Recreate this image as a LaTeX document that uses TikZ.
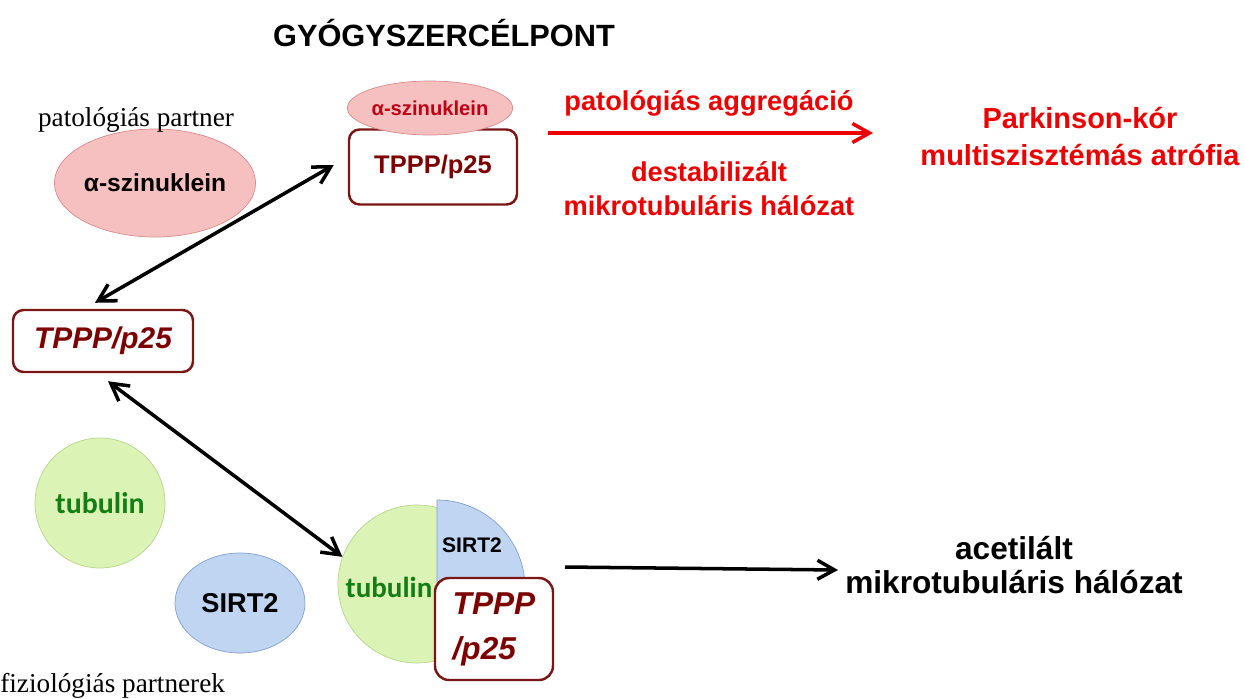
\documentclass[tikz,border=0pt]{standalone}
\usepackage{fontspec}
\setmainfont{Liberation Serif}
\setsansfont{Liberation Sans}
\newfontfamily\tubfont{Carlito}
\usetikzlibrary{arrows.meta,positioning,shapes.geometric}
\definecolor{boxred}{RGB}{122,22,22}
\definecolor{textred}{RGB}{125,0,0}
\definecolor{signalred}{RGB}{236,0,0}
\definecolor{asynred}{RGB}{190,0,20}
\definecolor{pinkfill}{RGB}{247,192,192}
\definecolor{pinkline}{RGB}{214,140,140}
\definecolor{greenfill}{RGB}{220,243,182}
\definecolor{greenline}{RGB}{182,212,140}
\definecolor{bluefill}{RGB}{192,213,242}
\definecolor{blueline}{RGB}{130,160,205}
\definecolor{tubgreen}{RGB}{20,125,20}
\newcommand\fs[2]{\fontsize{#1}{#2}\selectfont}

\begin{document}
\begin{tikzpicture}[
    prot/.style={ellipse, draw=pinkline, fill=pinkfill, inner sep=0pt},
    tub/.style={circle, draw=greenline, fill=greenfill, inner sep=0pt},
    tubtext/.style={text=tubgreen, font=\tubfont\bfseries\fs{16.5}{20}},
    sirt/.style={ellipse, draw=blueline, fill=bluefill, inner sep=0pt,
                 font=\sffamily\bfseries\fs{15.5}{18}},
    tpppbox/.style={draw=boxred, line width=1.4pt, rounded corners=6pt,
                    fill=white, text=textred, inner sep=0pt},
    redlbl/.style={text=signalred, align=center,
                   font=\sffamily\bfseries\fs{15.5}{19.4}},
    serif/.style={font=\fs{15.5}{18}},
    dblarr/.style={{Straight Barb[length=3.4mm,width=3.8mm]}-{Straight Barb[length=3.4mm,width=3.8mm]},
                   line width=2pt},
    onearr/.style={-{Straight Barb[length=3.4mm,width=3.8mm]}, line width=2pt}
  ]
  \useasboundingbox (0,0) rectangle (24.9,-13.96);

  \node[font=\sffamily\bfseries\fs{17.5}{20}] (title) at (8.88,-0.66) {GYÓGYSZERCÉLPONT};

  % pathological partner
  \node[prot, minimum width=3.2cm, minimum height=2.16cm,
        font=\sffamily\bfseries\fs{14}{16}] (asyn) at (3.1,-3.66) {α-szinuklein};
  \node[serif] (patpartner) at (2.72,-2.4) {patológiás partner};

  % drug target complex
  \node[tpppbox, minimum width=3.36cm, minimum height=1.5cm,
        font=\sffamily\bfseries\fs{14.5}{17}] (tppptop) at (8.66,-3.34) {TPPP/p25};
  \node[prot, minimum width=2.68cm, minimum height=1.08cm, text=asynred,
        font=\sffamily\bfseries\fs{11.5}{14}] (asynsmall) at (8.6,-2.16) {α-szinuklein};

  \coordinate (aggstart) at (10.96,-2.66);
  \coordinate (aggend) at (17.46,-2.66);
  \draw[onearr, signalred] (aggstart) -- (aggend);
  \node[redlbl] (aggr) at (14.18,-2.06) {patológiás aggregáció};
  \node[redlbl] (destab) at (14.18,-3.78) {destabilizált\\mikrotubuláris hálózat};
  \node[redlbl, font=\sffamily\bfseries\fs{16.5}{21.5}] (disease) at (21.6,-2.73)
       {Parkinson-kór\\multiszisztémás atrófia};

  % TPPP/p25
  \node[tpppbox, minimum width=3.6cm, minimum height=1.24cm,
        font=\sffamily\bfseries\itshape\fs{17}{20}] (tpppleft) at (2.06,-6.82) {TPPP/p25};

  % physiological partners
  \node[tub, minimum size=2.6cm, tubtext, font=\tubfont\bfseries\fs{17}{20}] (tubulin) at (2.0,-10.06) {tubulin};
  \node[sirt, minimum width=2.6cm, minimum height=2.0cm] (sirt) at (4.8,-12.06) {SIRT2};
  \node[serif, anchor=west, inner sep=0pt] (fizpartner) at (0,-13.72) {fiziológiás partnerek};

  % tubulin--SIRT2--TPPP/p25 complex
  \node[tub, minimum size=3.16cm] (cplxtub) at (8.34,-11.68) {};
  \node[tubtext] (cplxtublbl) at (7.78,-11.74) {tubulin};
  \filldraw[draw=blueline, fill=bluefill] (8.74,-11.76) -- ++(0,1.76)
       arc[start angle=90, end angle=0, radius=1.76cm] -- cycle;
  \node[font=\sffamily\bfseries\fs{12}{14}] (cplxsirt) at (9.44,-10.9) {SIRT2};
  \node[tpppbox, minimum width=2.36cm, minimum height=2.04cm, align=left,
        rounded corners=8pt, font=\sffamily\bfseries\itshape\fs{18}{25.6}] (cplxtppp)
       at (9.88,-12.58) {TPPP\\/p25};

  \coordinate (acetstart) at (11.3,-11.34);
  \coordinate (acetend) at (16.76,-11.4);
  \draw[onearr] (acetstart) -- (acetend);
  \node[align=center, font=\sffamily\bfseries\fs{18}{19.5}] (acet) at (20.28,-11.3)
       {acetilált\\mikrotubuláris hálózat};

  \draw[dblarr] ([xshift=-0.16cm,yshift=0.12cm]tpppleft.north) -- ([xshift=-0.28cm,yshift=0.04cm]tppptop.west);
  \draw[dblarr] ([xshift=0.1cm,yshift=-0.16cm]tpppleft.south) -- (cplxtub.160);
\end{tikzpicture}
\end{document}
